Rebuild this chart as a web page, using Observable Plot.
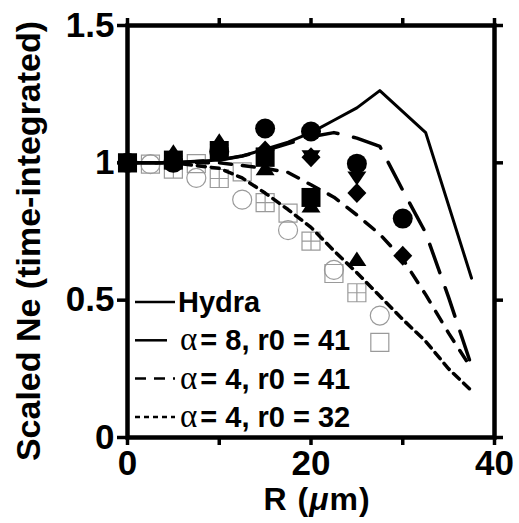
<!DOCTYPE html>
<html><head><meta charset="utf-8">
<script src="https://cdn.jsdelivr.net/npm/d3@7"></script>
<script src="https://cdn.jsdelivr.net/npm/@observablehq/plot@0.6"></script>
<style>html,body{margin:0;padding:0;background:#fff}svg{display:block}</style>
</head><body><div id="chart"></div>
<script>
// ---- data ----
const xTicks = [0, 10, 20, 30, 40];
const xTickLabels = ["0", "", "20", "", "40"];
const yTicks = [0, 0.5, 1, 1.5];
const yTickLabels = ["0", "0.5", "1", "1.5"];

const hydraR = [0, 5, 10, 12.5, 15, 17.5, 20, 22.5, 25, 27.5, 32.5, 37.5];
const hydraNe = [1.0, 1.0, 1.01, 1.025, 1.05, 1.075, 1.11, 1.155, 1.2, 1.263, 1.11, 0.58];

const modelR = [0, 5, 10, 12.5, 15, 17.5, 20, 22.5, 25, 27.5, 30, 32.5, 35, 37.5];
const a8r41Ne = [1.0, 1.0, 1.01, 1.025, 1.045, 1.07, 1.095, 1.11, 1.09, 1.06, 0.9, 0.745, 0.51, 0.26];
const a4r41Ne = [1.0, 1.0, 1.0, 0.99, 0.98, 0.965, 0.92, 0.875, 0.81, 0.74, 0.65, 0.52, 0.38, 0.25];
const a4r32Ne = [1.0, 1.0, 0.98, 0.945, 0.89, 0.83, 0.765, 0.68, 0.6, 0.515, 0.43, 0.35, 0.25, 0.17];

const filledCircleR = [0, 5, 10, 15, 20, 25, 30];
const filledCircleNe = [1.0, 1.0, 1.04, 1.125, 1.114, 0.997, 0.797];
const filledSquareR = [0, 5, 10, 15, 20];
const filledSquareNe = [1.0, 1.01, 1.045, 1.02, 0.874];
const filledTriR = [0, 5, 10, 15, 20, 25];
const filledTriNe = [1.0, 1.04, 1.08, 0.98, 0.845, 0.65];
const filledDownR = [0, 5, 10, 15, 20, 25];
const filledDownNe = [1.0, 1.0, 1.04, 1.03, 1.02, 0.943];
const filledDiamondR = [0, 5, 10, 15, 20, 25, 30];
const filledDiamondNe = [1.0, 1.01, 1.04, 1.045, 1.02, 0.89, 0.662];

const openCircleR = [2.5, 7.5, 12.5, 17.5, 22.5, 27.5];
const openCircleNe = [0.995, 0.945, 0.866, 0.755, 0.61, 0.444];
const openSquareR = [2.5, 7.5, 12.5, 17.5, 22.5, 27.5];
const openSquareNe = [0.995, 0.997, 0.967, 0.817, 0.597, 0.346];
const crossSquareR = [0, 5, 10, 15, 20, 25];
const crossSquareNe = [1.0, 0.977, 0.943, 0.855, 0.715, 0.527];

const legendLabels = ["Hydra", "= 8, r0 = 41", "= 4, r0 = 41", "= 4, r0 = 32"];
const legendGreek = ["", "α", "α", "α"];
const legendDash = ["none", "32,20", "11,8", "5,4"];
const lineDash = ["none", "30,16", "12,11", "8,6"];

// ---- helpers ----
const pts = (xs, ys) => xs.map((x, i) => ({x, y: ys[i]}));
const poly = (p) => ({draw(ctx) { ctx.moveTo(p[0][0], p[0][1]); for (let i = 1; i < p.length; i++) ctx.lineTo(p[i][0], p[i][1]); ctx.closePath(); }});
const SQ = poly([[-9.5, -9.5], [9.5, -9.5], [9.5, 9.5], [-9.5, 9.5]]);
const OSQ = poly([[-9, -9], [9, -9], [9, 9], [-9, 9]]);
const TRI = poly([[0, -7.5], [9.5, 7], [-9.5, 7]]);
const DTRI = poly([[0, 7], [9.5, -7], [-9.5, -7]]);
const DIA = poly([[0, -10], [9.5, 0], [0, 10], [-9.5, 0]]);
const CIRC = {draw(ctx) { ctx.moveTo(10, 0); ctx.arc(0, 0, 10, 0, 2 * Math.PI); ctx.closePath(); }};
const OCIRC = {draw(ctx) { ctx.moveTo(9.5, 0); ctx.arc(0, 0, 9.5, 0, 2 * Math.PI); ctx.closePath(); }};
const XSQ = {draw(ctx) {
  ctx.moveTo(-9, -9); ctx.lineTo(9, -9); ctx.lineTo(9, 9); ctx.lineTo(-9, 9); ctx.closePath();
  ctx.moveTo(-9, 0); ctx.lineTo(9, 0); ctx.moveTo(0, -9); ctx.lineTo(0, 9);
}};

const gray = "#9a9a9a";
const openOpts = {x: "x", y: "y", fill: "none", stroke: gray, strokeWidth: 1.2};
const fillOpts = {x: "x", y: "y", fill: "black", stroke: "none"};

const plot = Plot.plot({
  width: 519, height: 523,
  marginLeft: 127, marginRight: 25, marginTop: 25, marginBottom: 86,
  x: {domain: [0, 40]},
  y: {domain: [0, 1.5]},
  style: {fontFamily: "'Liberation Sans', Arial, sans-serif", fontWeight: "bold", background: "white", color: "black"},
  marks: [
    Plot.dot(pts(openCircleR, openCircleNe), {...openOpts, symbol: OCIRC}),
    Plot.dot(pts(openSquareR, openSquareNe), {...openOpts, symbol: OSQ}),
    Plot.dot(pts(crossSquareR, crossSquareNe), {...openOpts, symbol: XSQ}),
    Plot.line(pts(hydraR, hydraNe), {x: "x", y: "y", stroke: "black", strokeWidth: 3}),
    Plot.line(pts(modelR, a8r41Ne), {x: "x", y: "y", stroke: "black", strokeWidth: 3.5, strokeDasharray: lineDash[1]}),
    Plot.line(pts(modelR, a4r41Ne), {x: "x", y: "y", stroke: "black", strokeWidth: 3.5, strokeDasharray: lineDash[2]}),
    Plot.line(pts(modelR, a4r32Ne), {x: "x", y: "y", stroke: "black", strokeWidth: 3.5, strokeDasharray: lineDash[3]}),
    Plot.dot(pts(filledCircleR, filledCircleNe), {...fillOpts, symbol: CIRC}),
    Plot.dot(pts(filledDiamondR, filledDiamondNe), {...fillOpts, symbol: DIA}),
    Plot.dot(pts(filledDownR, filledDownNe), {...fillOpts, symbol: DTRI}),
    Plot.dot(pts(filledTriR, filledTriNe), {...fillOpts, symbol: TRI}),
    Plot.dot(pts(filledSquareR, filledSquareNe), {...fillOpts, symbol: SQ}),
    Plot.frame({stroke: "black", strokeWidth: 4.5}),
    Plot.axisY({ticks: yTicks, tickFormat: d => yTickLabels[yTicks.indexOf(d)], tickSize: 10, tickPadding: 3, strokeWidth: 3.5, fontSize: 35, fontWeight: "bold", label: null}),
    Plot.axisY({anchor: "right", ticks: yTicks, tickFormat: () => "", tickSize: 8, strokeWidth: 3.5, label: null}),
    Plot.axisX({ticks: xTicks, tickFormat: d => xTickLabels[xTicks.indexOf(d)], tickSize: 8, tickPadding: 5, strokeWidth: 3.5, fontSize: 35, fontWeight: "bold", label: null}),
    Plot.axisX({anchor: "top", ticks: xTicks, tickFormat: () => "", tickSize: 8, strokeWidth: 3.5, label: null})
  ]
});

const svg = d3.select(plot);
// axis titles
svg.append("text")
  .attr("transform", "translate(40,241) rotate(-90)")
  .attr("text-anchor", "middle")
  .attr("font-size", 34).attr("font-weight", "bold").attr("fill", "black")
  .text("Scaled Ne (time-integrated)");
const xt = svg.append("text")
  .attr("x", 317).attr("y", 510)
  .attr("text-anchor", "middle")
  .attr("font-size", 32).attr("letter-spacing", 1).attr("font-weight", "bold").attr("fill", "black");
xt.append("tspan").text("R (");
xt.append("tspan").attr("font-style", "italic").text("μ");
xt.append("tspan").text("m)");

// legend
const lg = svg.append("g").attr("text-anchor", "start");
legendLabels.forEach((lab, i) => {
  const y = 302 + i * 38.3;
  lg.append("line").attr("x1", 135).attr("x2", 175).attr("y1", y).attr("y2", y)
    .attr("stroke", "black").attr("stroke-width", 2.5)
    .attr("stroke-dasharray", legendDash[i]);
  const t = lg.append("text").attr("x", legendGreek[i] ? 180 : 178).attr("y", y + 10)
    .attr("text-anchor", "start")
    .attr("font-size", 29).attr("font-weight", "bold").attr("fill", "black");
  if (legendGreek[i]) {
    t.append("tspan").attr("font-family", "'Liberation Serif', 'DejaVu Serif', serif")
      .attr("font-weight", "normal").attr("font-size", 33).text(legendGreek[i]);
    t.append("tspan").attr("dx", 3).text(lab);
  } else {
    t.text(lab);
  }
});

document.getElementById("chart").appendChild(plot);
</script>
</body></html>
